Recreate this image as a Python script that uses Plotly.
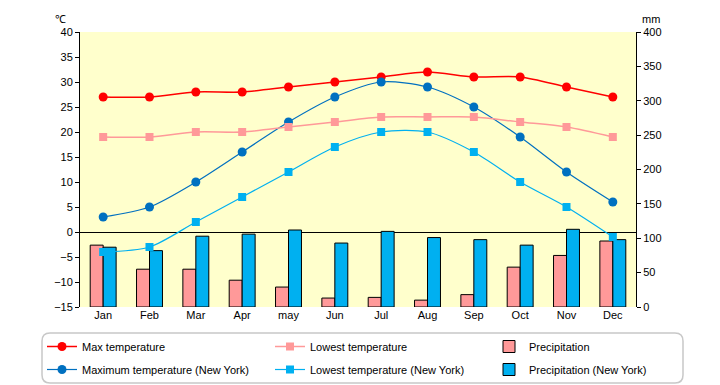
import plotly.graph_objects as go

months = ["Jan", "Feb", "Mar", "Apr", "may", "Jun", "Jul", "Aug", "Sep", "Oct", "Nov", "Dec"]
max_temp = [27, 27, 28, 28, 29, 30, 31, 32, 31, 31, 29, 27]
low_temp = [19, 19, 20, 20, 21, 22, 23, 23, 23, 22, 21, 19]
precip = [90, 55, 55, 39, 29, 13, 14, 10, 18, 58, 75, 96]
max_temp_ny = [3, 5, 10, 16, 22, 27, 30, 29, 25, 19, 12, 6]
low_temp_ny = [-4, -3, 2, 7, 12, 17, 20, 20, 16, 10, 5, -1]
precip_ny = [87, 82, 103, 106, 112, 93, 110, 101, 98, 90, 113, 98]

FONT = "Liberation Sans"
OFF = 8  # page body margin
W, H = 720 - OFF, 385 - OFF
# plot area in window pixels
PX0, PX1, PY0, PY1 = 80, 636, 32, 307
L, T = PX0 - OFF, PY0 - OFF
R, B = W - (PX1 - OFF), H - (PY1 - OFF)
PW, PH = PX1 - PX0, PY1 - PY0

def px(x):
    return (x - PX0) / PW

def py(y):
    return (PY1 - y) / PH

fig = go.Figure()

fig.add_trace(go.Bar(x=months, y=precip, name="Precipitation", yaxis="y",
                     marker=dict(color="#FF9999", line=dict(color="black", width=1)),
                     legend="legend3", legendgroup="p1"))
fig.add_trace(go.Bar(x=months, y=precip_ny, name="Precipitation (New York)", yaxis="y",
                     marker=dict(color="#00B0F0", line=dict(color="black", width=1)),
                     legend="legend3", legendgroup="p2"))

fig.add_trace(go.Scatter(x=months, y=max_temp, name="Max temperature", yaxis="y2",
                         mode="lines+markers", line=dict(color="#FF0000", width=1.5, shape="spline", smoothing=0.8),
                         marker=dict(symbol="circle", size=9, color="#FF0000"),
                         legend="legend", legendgroup="a1"))
fig.add_trace(go.Scatter(x=months, y=max_temp_ny, name="Maximum temperature (New York)", yaxis="y2",
                         mode="lines+markers", line=dict(color="#0070C0", width=1.2, shape="spline", smoothing=0.8),
                         marker=dict(symbol="circle", size=9, color="#0070C0"),
                         legend="legend", legendgroup="a2"))
fig.add_trace(go.Scatter(x=months, y=low_temp, name="Lowest temperature", yaxis="y2",
                         mode="lines+markers", line=dict(color="#FF9999", width=1.5, shape="spline", smoothing=0.8),
                         marker=dict(symbol="square", size=8, color="#FF9999"),
                         legend="legend2", legendgroup="b1"))
fig.add_trace(go.Scatter(x=months, y=low_temp_ny, name="Lowest temperature (New York)", yaxis="y2",
                         mode="lines+markers", line=dict(color="#00B0F0", width=1.2, shape="spline", smoothing=0.8),
                         marker=dict(symbol="square", size=8, color="#00B0F0"),
                         legend="legend2", legendgroup="b2"))

leg_common = dict(orientation="v", yanchor="top", xanchor="left", y=py(332),
                  bgcolor="rgba(0,0,0,0)", borderwidth=0, tracegroupgap=4,
                  font=dict(family=FONT, size=11, color="black"))

# rounded legend frame
x0, x1, y0, y1 = px(42), px(683), py(383), py(333)
rx, ry = 8 / PW, 8 / PH
path = (f"M {x0+rx},{y1} L {x1-rx},{y1} Q {x1},{y1} {x1},{y1-ry} "
        f"L {x1},{y0+ry} Q {x1},{y0} {x1-rx},{y0} L {x0+rx},{y0} "
        f"Q {x0},{y0} {x0},{y0+ry} L {x0},{y1-ry} Q {x0},{y1} {x0+rx},{y1} Z")

fig.update_layout(
    width=W, height=H,
    margin=dict(l=L, r=R, t=T, b=B, autoexpand=False),
    paper_bgcolor="white",
    plot_bgcolor="#FFFFCC",
    font=dict(family=FONT, size=11, color="black"),
    barmode="group", bargap=0.44, bargroupgap=0,
    xaxis=dict(range=[-0.5, 11.5], showline=False, ticks="", showgrid=False, tickfont=dict(size=11)),
    yaxis=dict(range=[0, 400], dtick=50, side="right", showgrid=False, zeroline=False,
               showline=True, linecolor="black", linewidth=1, ticks="outside", ticklen=4,
               tickcolor="black", tickfont=dict(size=11)),
    yaxis2=dict(range=[-15, 40], dtick=5, side="left", overlaying="y", showgrid=False,
                zeroline=True, zerolinecolor="black", zerolinewidth=1.2,
                showline=True, linecolor="black", linewidth=1, ticks="outside", ticklen=4,
                tickcolor="black", tickfont=dict(size=11)),
    legend=dict(x=px(42), **leg_common),
    legend2=dict(x=px(270), **leg_common),
    legend3=dict(x=px(489), **leg_common),
    shapes=[dict(type="path", xref="paper", yref="paper", path=path,
                 line=dict(color="#C8C8C8", width=1.5), fillcolor="rgba(0,0,0,0)")],
    annotations=[
        dict(text="℃", xref="paper", yref="paper", x=px(54), y=py(12), showarrow=False,
             borderpad=0, font=dict(size=11)),
        dict(text="mm", xref="paper", yref="paper", x=px(661), y=py(12), showarrow=False,
             borderpad=0, font=dict(size=11)),
    ],
)

fig.write_html("out.html")
